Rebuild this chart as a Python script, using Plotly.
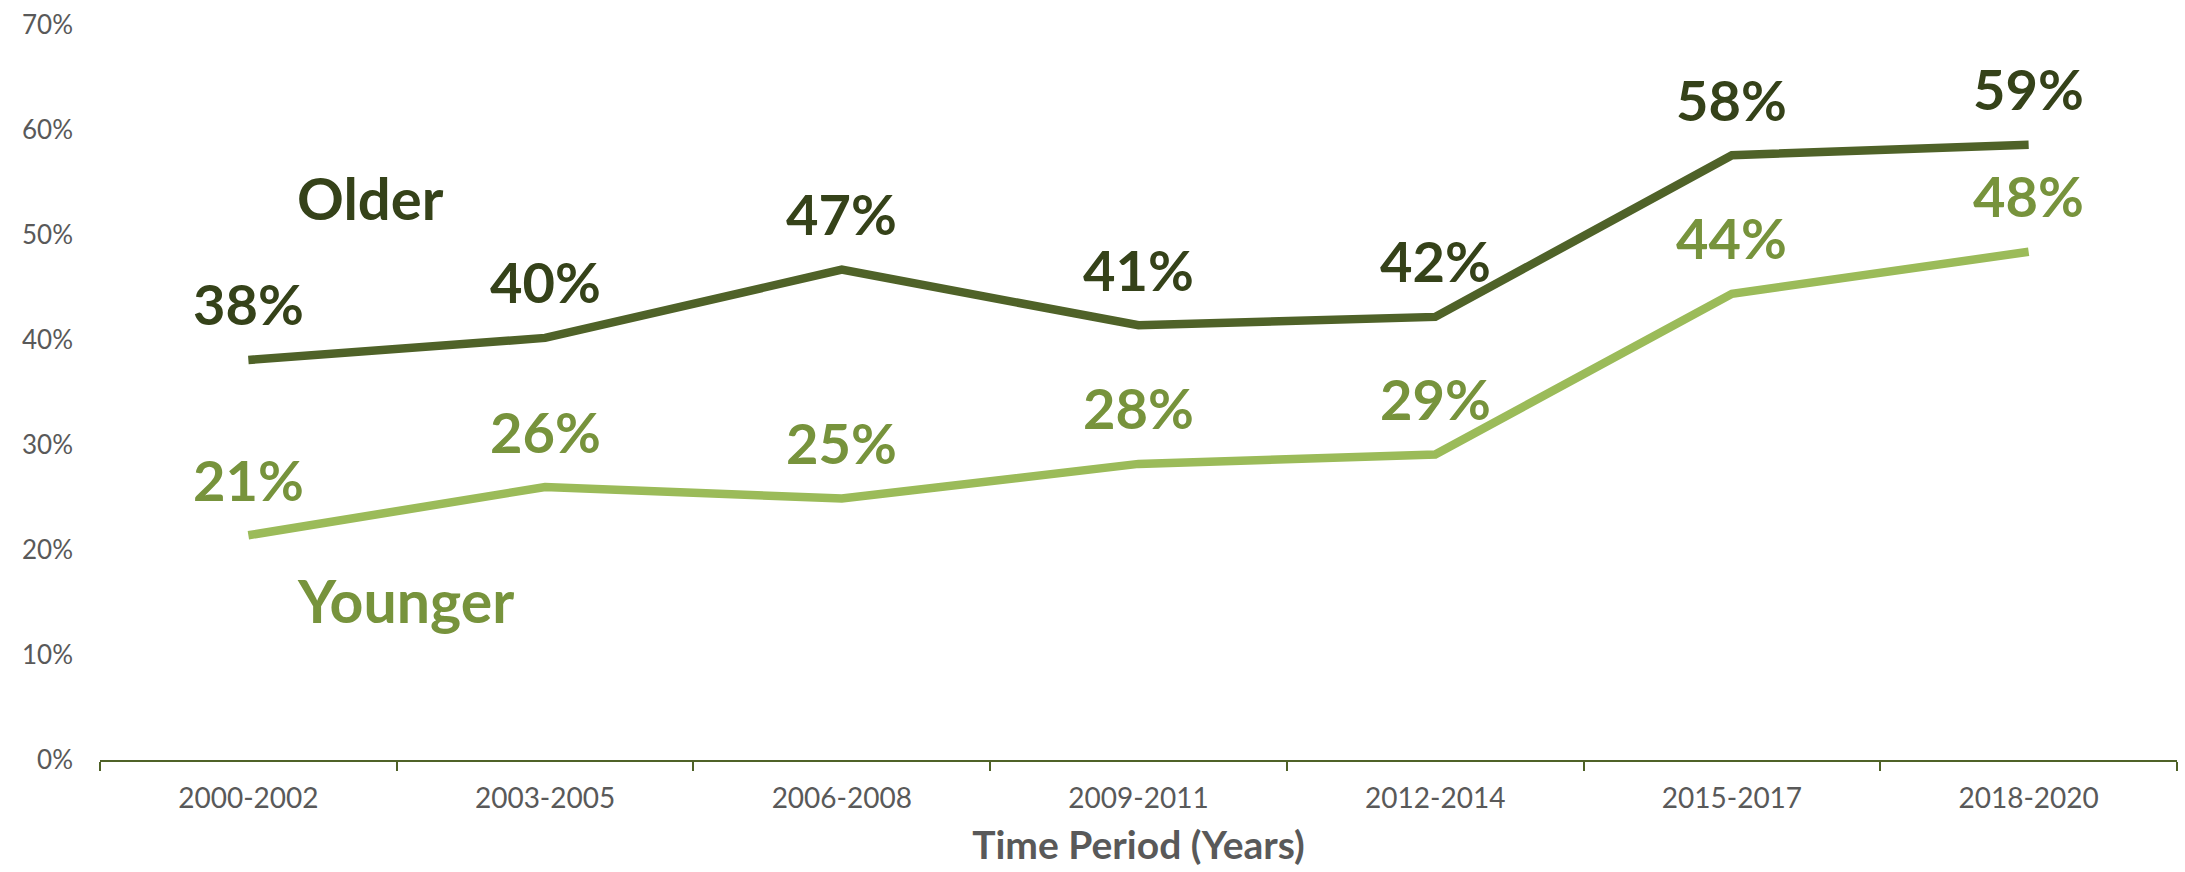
import plotly.graph_objects as go

# Time periods on the x axis
periods = ["2000-2002", "2003-2005", "2006-2008", "2009-2011",
           "2012-2014", "2015-2017", "2018-2020"]

# Share (%) for each age group
older = [38.1, 40.2, 46.7, 41.4, 42.2, 57.6, 58.6]
younger = [21.4, 26.0, 24.9, 28.2, 29.1, 44.4, 48.4]

# Y axis ticks
y_ticks = [0, 10, 20, 30, 40, 50, 60, 70]
y_tick_labels = [f"{t}%" for t in y_ticks]

OLDER_LINE = "#4F6228"
OLDER_TEXT = "#354219"
YOUNGER_LINE = "#9BBB59"
YOUNGER_TEXT = "#77933C"
GRAY = "#595959"
FONT = "Lato"

fig = go.Figure()
fig.add_trace(go.Scatter(x=periods, y=older, mode="lines", name="Older",
                         line=dict(color=OLDER_LINE, width=8.5)))
fig.add_trace(go.Scatter(x=periods, y=younger, mode="lines", name="Younger",
                         line=dict(color=YOUNGER_LINE, width=8.5)))

annotations = []
for series, color in ((older, OLDER_TEXT), (younger, YOUNGER_TEXT)):
    for p, v in zip(periods, series):
        annotations.append(dict(
            x=p, y=v, xref="x", yref="y", text=f"{round(v)}%",
            showarrow=False, yshift=56, yanchor="middle",
            font=dict(family=FONT, size=56, color=color, weight="bold"),
        ))

# Series name labels
annotations.append(dict(x=0.41, y=53.6, xref="x", yref="y", text="Older",
                        showarrow=False, yanchor="middle",
                        font=dict(family=FONT, size=58, color=OLDER_TEXT, weight="bold")))
annotations.append(dict(x=0.53, y=15.2, xref="x", yref="y", text="Younger",
                        showarrow=False, yanchor="middle",
                        font=dict(family=FONT, size=59, color=YOUNGER_TEXT, weight="bold")))

fig.update_layout(
    width=2185, height=872,
    margin=dict(l=100, r=8, t=20, b=112),
    plot_bgcolor="white", paper_bgcolor="white",
    showlegend=False,
    annotations=annotations,
    xaxis=dict(
        type="category", range=[-0.5, 6.5],
        showline=True, linecolor=OLDER_LINE, linewidth=2,
        ticks="outside", tickson="boundaries", ticklen=9, tickwidth=2,
        tickcolor=OLDER_LINE, showgrid=False, zeroline=False,
        tickfont=dict(family=FONT, size=28, color=GRAY),
        ticklabelstandoff=12,
        title=dict(text="Time Period (Years)", standoff=19,
                   font=dict(family=FONT, size=39, color=GRAY, weight="bold")),
    ),
    yaxis=dict(
        range=[0, 70], tickmode="array", tickvals=y_ticks, ticktext=y_tick_labels,
        showgrid=False, zeroline=False, showline=False,
        tickfont=dict(family=FONT, size=26, color=GRAY),
        ticklabelstandoff=26,
    ),
)

fig.write_html("out.html")
